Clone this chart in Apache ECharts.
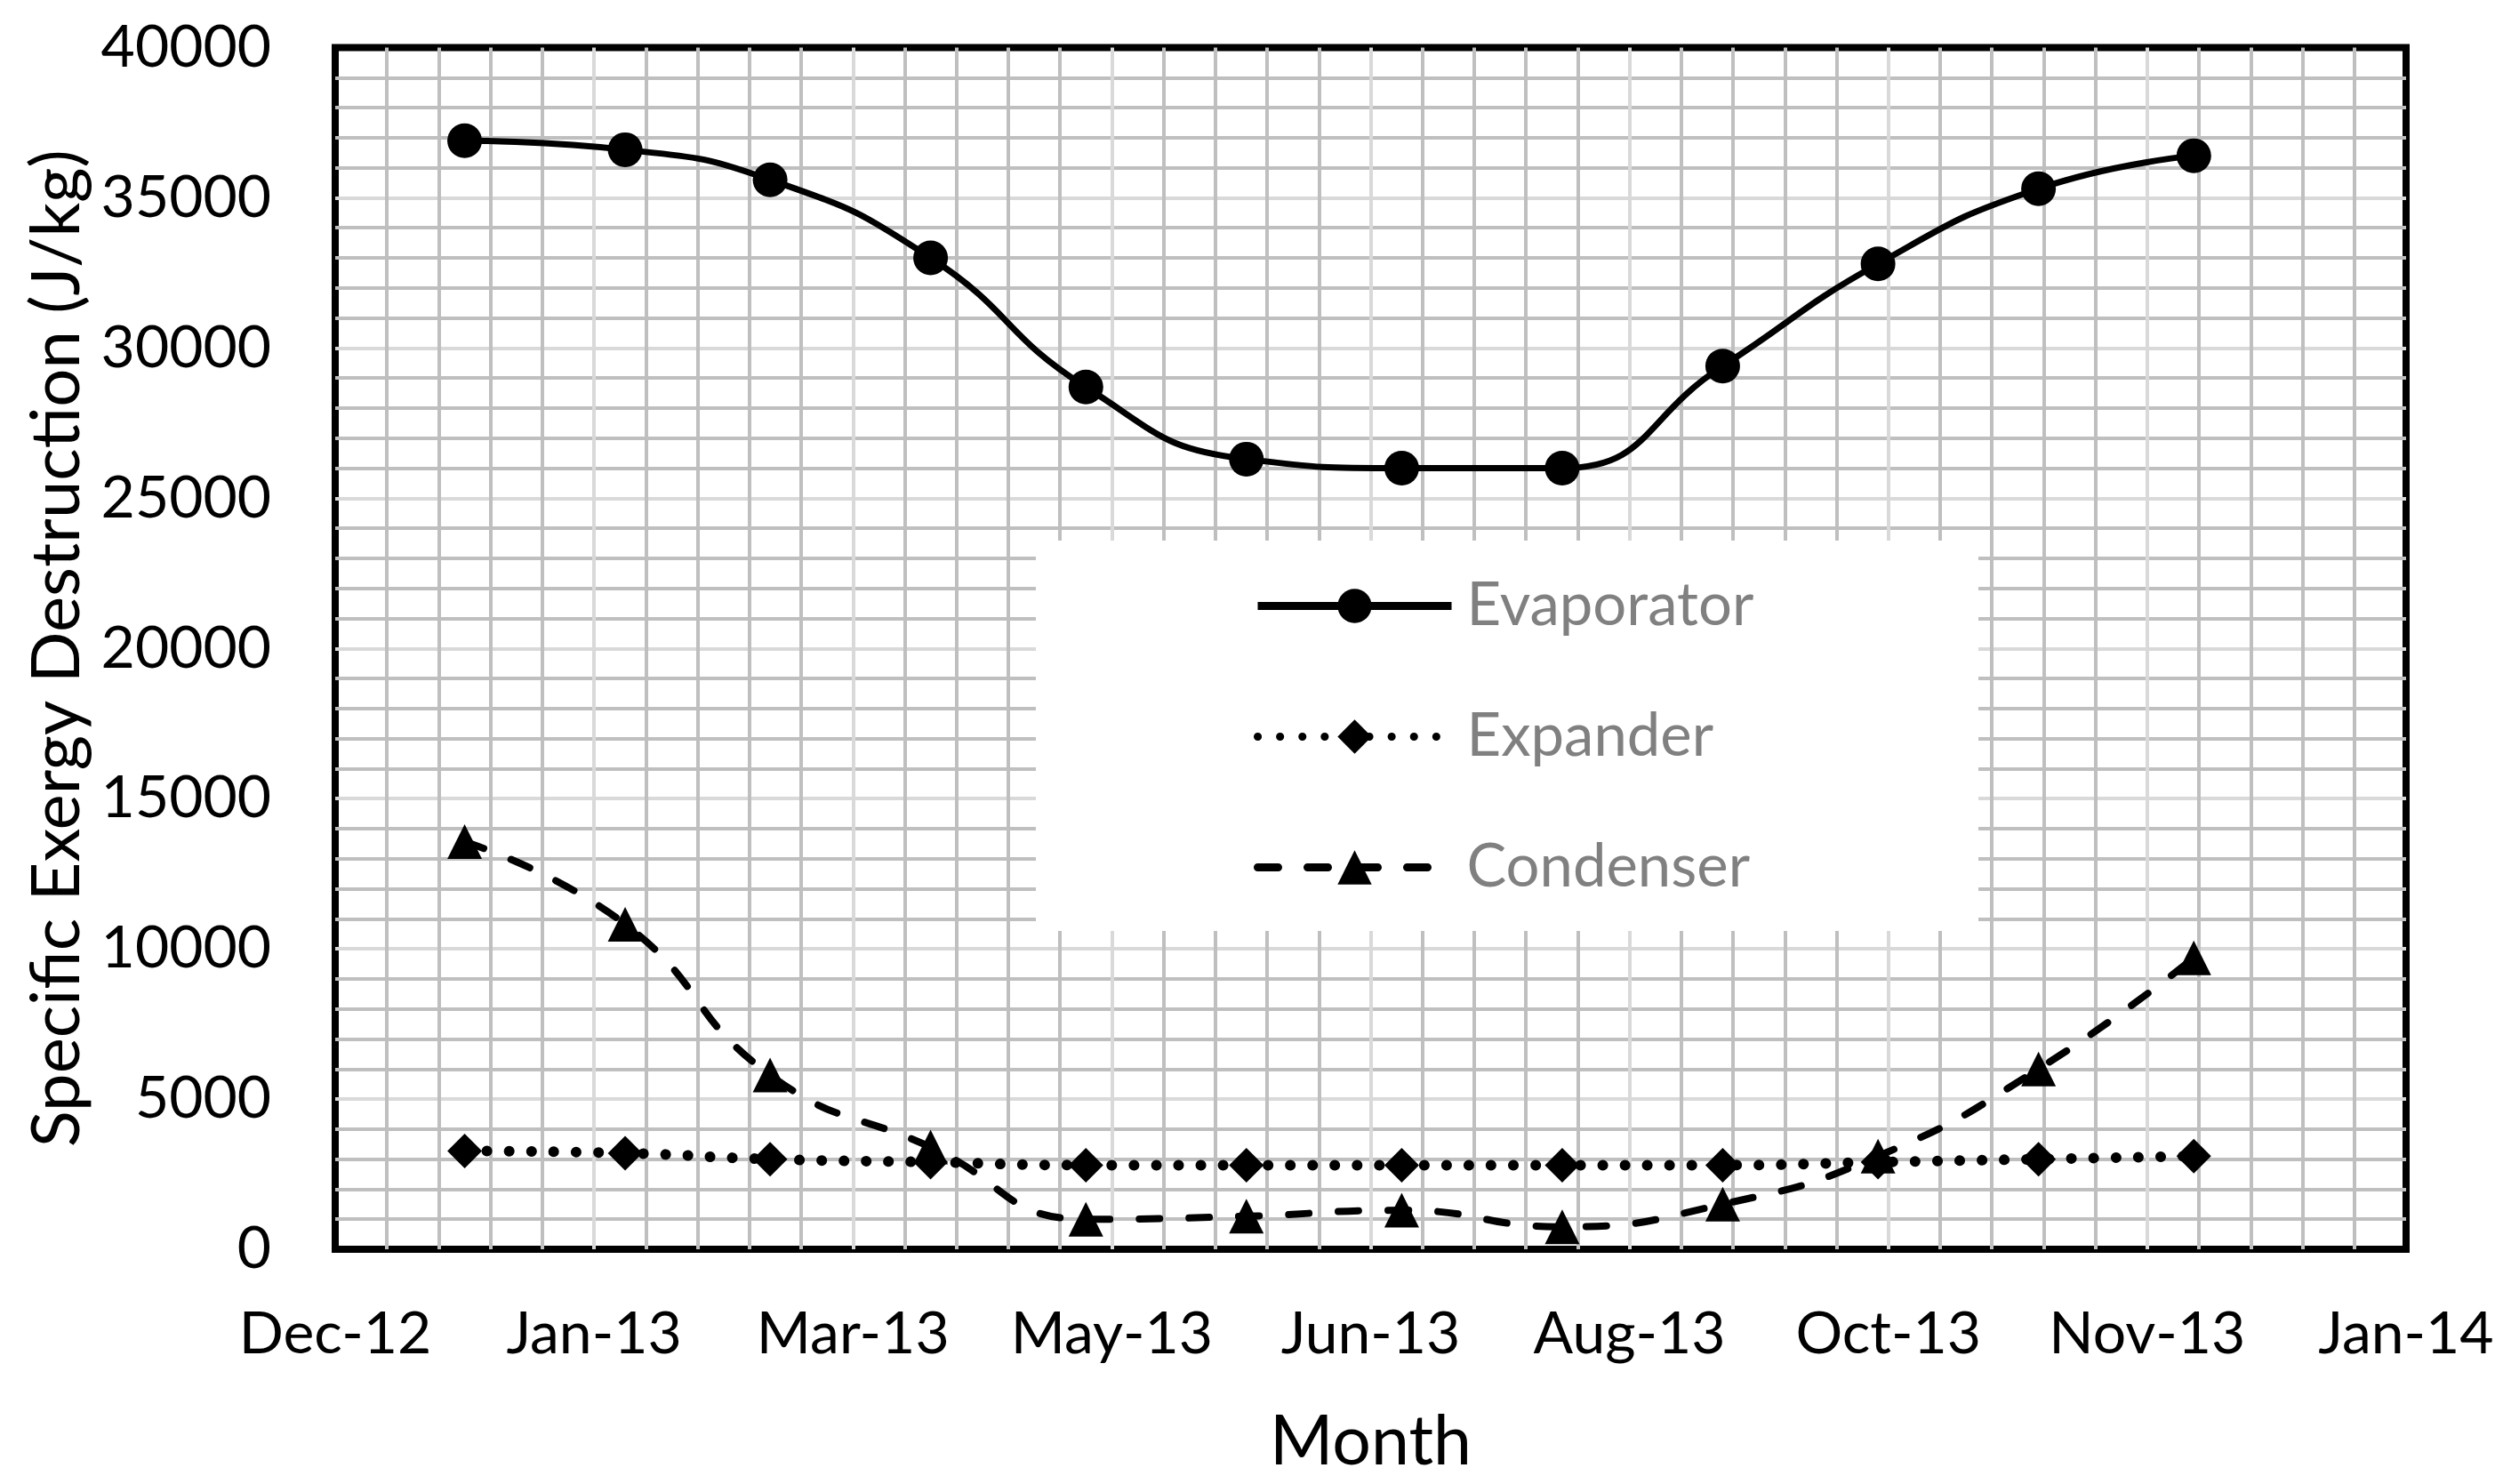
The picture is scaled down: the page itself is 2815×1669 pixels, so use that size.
<!DOCTYPE html>
<html><head><meta charset="utf-8">
<script src="https://cdn.jsdelivr.net/npm/echarts@6/dist/echarts.min.js"></script>
<style>html,body{margin:0;padding:0;background:#fff}#c{width:2815px;height:1669px}</style>
</head><body><div id="c"></div>
<script>
// ---- data ----
const months = ['2013-01-01','2013-02-01','2013-03-01','2013-04-01','2013-05-01','2013-06-01',
                '2013-07-01','2013-08-01','2013-09-01','2013-10-01','2013-11-01','2013-12-01'];
const evaporator = [36900, 36600, 35600, 33000, 28700, 26300, 26000, 26000, 29400, 32800, 35300, 36400];
const expander   = [3270, 3200, 3000, 2900, 2800, 2800, 2800, 2800, 2800, 2900, 3000, 3100];
const condenser  = [13570, 10820, 5800, 3400, 1000, 1100, 1300, 750, 1500, 3100, 6000, 9700];
const seriesNames = ['Evaporator', 'Expander', 'Condenser'];
const xTickLabels = ['Dec-12','Jan-13','Mar-13','May-13','Jun-13','Aug-13','Oct-13','Nov-13','Jan-14'];
const xAxisMin = 41250, xAxisMax = 41650, xAxisStep = 50;   // Excel date serials
const yAxisMin = 0, yAxisMax = 40000, yAxisStep = 5000;

function toSerial(s){ const p = s.split('-').map(Number); return Date.UTC(p[0], p[1]-1, p[2]) / 864e5 + 25569; }
function pairs(vals){ return months.map((m, i) => [toSerial(m), vals[i]]); }

const FONT = 'Lato';
const chart = echarts.init(document.getElementById('c'), null, {renderer: 'canvas'});
chart.setOption({
  backgroundColor: '#fff',
  animation: false,
  grid: {left: 377, top: 53.5, width: 2329, height: 1351.5, show: true,
         borderColor: '#000', borderWidth: 8, backgroundColor: 'transparent'},
  graphic: [{type: 'rect', zlevel: 1, z: 0, shape: {x: 1165, y: 608, width: 1060, height: 439}, style: {fill: '#ffffff'}}],
  legend: {
    orient: 'vertical', left: 1165, top: 608, itemWidth: 218, itemHeight: 48, itemGap: 80,
    padding: [40, 256, 38, 245], zlevel: 1, z: 10, data: seriesNames,
    lineStyle: {width: 9},
    textStyle: {color: '#808080', fontSize: 67, fontFamily: FONT, padding: [0, 0, 0, 12]}
  },
  xAxis: {
    type: 'value', min: xAxisMin, max: xAxisMax, interval: xAxisStep,
    name: 'Month', nameLocation: 'middle', nameGap: 179,
    nameTextStyle: {color: '#000', fontSize: 77, fontFamily: FONT, lineHeight: 77},
    axisLine: {show: false}, axisTick: {show: false},
    axisLabel: {color: '#000', fontSize: 66, fontFamily: FONT, lineHeight: 66, margin: 63,
      formatter: v => xTickLabels[Math.round((v - xAxisMin) / xAxisStep)] || ''},
    splitLine: {show: true, showMinLine: false, showMaxLine: false, lineStyle: {color: '#D9D9D9', width: 4}},
    minorTick: {show: false, splitNumber: 5},
    minorSplitLine: {show: true, lineStyle: {color: '#BFBFBF', width: 4}}
  },
  yAxis: {
    type: 'value', min: yAxisMin, max: yAxisMax, interval: yAxisStep,
    name: 'Specific Exergy Destruction (J/kg)', nameLocation: 'middle', nameGap: 273, nameRotate: 90,
    nameTextStyle: {color: '#000', fontSize: 76, fontFamily: FONT, lineHeight: 76},
    axisLine: {show: false}, axisTick: {show: false},
    axisLabel: {color: '#000', fontSize: 66, fontFamily: FONT, margin: 72, formatter: v => String(v)},
    splitLine: {show: true, showMinLine: false, showMaxLine: false, lineStyle: {color: '#D9D9D9', width: 4}},
    minorTick: {show: false, splitNumber: 5},
    minorSplitLine: {show: true, lineStyle: {color: '#BFBFBF', width: 4}}
  },
  series: [
    {name: seriesNames[0], type: 'line', data: pairs(evaporator), smooth: 0.5, z: 4,
     symbol: 'circle', symbolSize: 39, color: '#000',
     itemStyle: {color: '#000'}, lineStyle: {color: '#000', width: 7}},
    {name: seriesNames[1], type: 'line', data: pairs(expander), smooth: 0.5, z: 4,
     symbol: 'diamond', symbolSize: 39, color: '#000',
     itemStyle: {color: '#000'}, lineStyle: {color: '#000', width: 12, type: [0.1, 25], cap: 'round'}},
    {name: seriesNames[2], type: 'line', data: pairs(condenser), smooth: 0.5, z: 4,
     symbol: 'triangle', symbolSize: 39, color: '#000',
     itemStyle: {color: '#000'}, lineStyle: {color: '#000', width: 8, type: [23, 33], cap: 'round'}}
  ]
});
</script></body></html>
